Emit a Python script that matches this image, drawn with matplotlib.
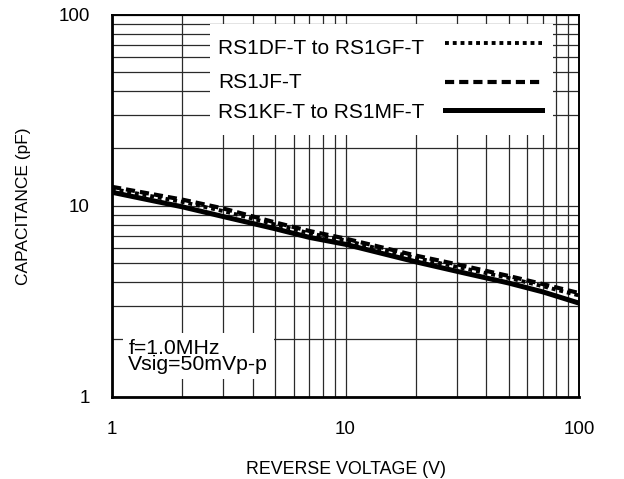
import matplotlib
matplotlib.use("Agg")
import matplotlib.pyplot as plt
from matplotlib.patches import Rectangle

plt.rcParams['font.family'] = ['Liberation Sans', 'DejaVu Sans']

# reverse voltage (V) and junction capacitance (pF)
volts = [1, 2, 3, 5, 7, 10, 20, 30, 50, 70, 100]
cap_dg = [12.3, 10.5, 9.4, 8.0, 7.2, 6.6, 5.35, 4.8, 4.2, 3.8, 3.4]
cap_j = [12.6, 10.8, 9.7, 8.2, 7.4, 6.75, 5.5, 4.95, 4.3, 3.9, 3.5]
cap_km = [11.8, 9.9, 8.8, 7.6, 6.85, 6.3, 5.1, 4.55, 3.95, 3.55, 3.1]

labels = ['RS1DF-T to RS1GF-T', 'RS1JF-T', 'RS1KF-T to RS1MF-T']
styles = [(0, (1, 1)), (0, (2.2, 1.2)), '-']
widths = [2.8, 3.0, 3.6]

fig = plt.figure(figsize=(6.24, 4.79), dpi=100)
ax = fig.add_axes([0.1795, 0.1712, 0.7485, 0.7975])

for cap, lab, ls, lw in zip([cap_dg, cap_j, cap_km], labels, styles, widths):
    ax.plot(volts, cap, color='black', lw=lw, linestyle=ls, label=lab)

ax.set_xscale('log')
ax.set_yscale('log')
ax.set_xlim(1, 100)
ax.set_ylim(1, 100)
ax.set_xticks([1, 10, 100])
ax.set_xticklabels(['1', '10', '100'])
ax.set_yticks([1, 10, 100])
ax.set_yticklabels(['1', '10', '100'])

ax.grid(True, which='both', color='#2a2a2a', lw=0.9)
ax.tick_params(which='both', length=0, labelsize=13.5)
ax.tick_params(axis='x', pad=17)
ax.tick_params(axis='y', pad=16)
for side in ['left', 'bottom']:
    ax.spines[side].set_linewidth(2.0)
for side in ['top', 'right']:
    ax.spines[side].set_linewidth(1.4)

ax.set_xlabel('REVERSE VOLTAGE (V)', fontsize=12.8, labelpad=17)
ax.set_ylabel('CAPACITANCE (pF)', fontsize=12.5, labelpad=20)

# legend block: text on the left, line sample on the right, white background
ax.add_patch(Rectangle((0.21, 0.686), 0.734, 0.29, transform=ax.transAxes,
                       facecolor='white', edgecolor='none', zorder=3))
text_y = [0.911, 0.822, 0.746]
line_y = [0.927, 0.825, 0.752]
for lab, ls, lw, ty, ly in zip(labels, styles, widths, text_y, line_y):
    ax.text(0.227, ty, lab, transform=ax.transAxes, fontsize=15,
            ha='left', va='center', zorder=4)
    ax.plot([0.713, 0.921], [ly, ly], transform=ax.transAxes, color='black',
            lw=lw, linestyle=ls, clip_on=False, zorder=4)

ax.text(0.035, 0.061, 'f=1.0MHz\nVsig=50mVp-p', transform=ax.transAxes,
        fontsize=15.3, linespacing=0.78, va='bottom', ha='left', zorder=4,
        bbox=dict(facecolor='white', edgecolor='none', pad=4))

fig.savefig('out.png', dpi=100)
